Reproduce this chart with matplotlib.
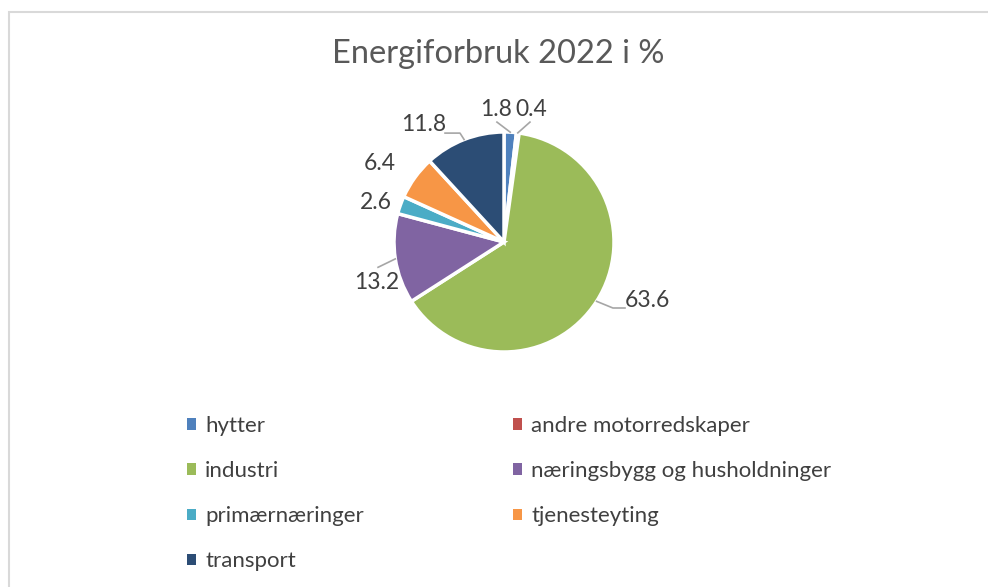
import numpy as np
import matplotlib
matplotlib.use('Agg')
import matplotlib.pyplot as plt
from matplotlib.patches import Rectangle, Patch

plt.rcParams['font.family'] = ['Lato', 'DejaVu Sans']

#%% data
categories = ['hytter', 'andre motorredskaper', 'industri',
              'næringsbygg og husholdninger', 'primærnæringer',
              'tjenesteyting', 'transport']
values = [1.8, 0.4, 63.6, 13.2, 2.6, 6.4, 11.8]
colors = ['#4F81BD', '#C0504D', '#9BBB59', '#8064A2',
          '#4BACC6', '#F79646', '#2C4D75']

# label positions (data units, pie radius = 1) and leader line points
label_pos = [(-0.073, 1.20), (0.245, 1.20), (1.30, -0.53), (-1.155, -0.37),
             (-1.164, 0.355), (-1.13, 0.71), (-0.727, 1.064)]
leader_pts = [[(-0.064, 1.09)], [(0.236, 1.09)], [(0.99, -0.60), (1.10, -0.60)],
              [(-1.145, -0.23)], None, None, [(-0.40, 0.99), (-0.536, 0.99)]]

#%% figure
W, H, dpi = 988, 587, 100
fig = plt.figure(figsize=(W / dpi, H / dpi), dpi=dpi)
fig.patch.set_facecolor('white')

scale = 110.0
cx, cy = 504, 242
ax = fig.add_axes([0, 0, 1, 1])
wedges, _ = ax.pie(values, colors=colors, startangle=90, counterclock=False,
                   radius=1, wedgeprops=dict(edgecolor='white', linewidth=2.5))
ax.set_xlim(-cx / scale, (W - cx) / scale)
ax.set_ylim(-(H - cy) / scale, cy / scale)
ax.set_aspect('auto')
ax.axis('off')

tot = sum(values)
cum = 0.0
for v, (lx, ly), pts in zip(values, label_pos, leader_pts):
    mid = np.deg2rad(90 - (cum + v / 2) / tot * 360)
    cum += v
    ax.text(lx, ly, f'{v:.1f}', ha='center', va='center', fontsize=16.5,
            color='#404040')
    if pts is not None:
        xs = [np.cos(mid)] + [p[0] for p in pts]
        ys = [np.sin(mid)] + [p[1] for p in pts]
        ax.plot(xs, ys, color='#a6a6a6', lw=1.2)

fig.text(498 / W, 1 - 54 / H, 'Energiforbruk 2022 i %', ha='center',
         va='center', fontsize=23.5, color='#595959')

# legend, filled row-wise like the original
order = [0, 2, 4, 6, 1, 3, 5]
handles = [Patch(facecolor=colors[i], edgecolor='none') for i in order]
labels = [categories[i] for i in order]
fig.legend(handles, labels, ncol=2, loc='upper left',
           bbox_to_anchor=(167 / W, 1 - 396 / H), frameon=False,
           fontsize=16, labelcolor='#404040', handlelength=0.42,
           handleheight=0.42, handletextpad=0.4, labelspacing=1.13,
           columnspacing=6.7)

fig.add_artist(Rectangle((9 / W, -0.1), 1.2, (H - 12) / H + 0.1,
                         transform=fig.transFigure, fill=False,
                         edgecolor='#d9d9d9', lw=1.5))

fig.savefig('out.png', dpi=dpi, facecolor='white')
